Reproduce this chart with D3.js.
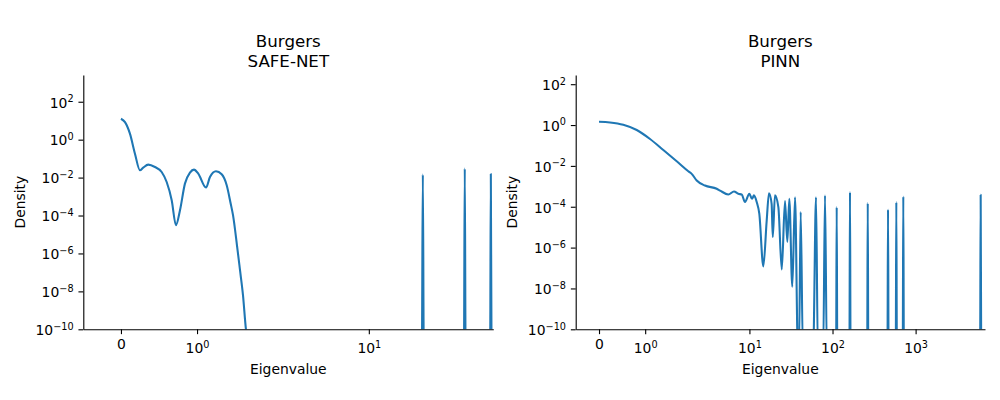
<!DOCTYPE html>
<html><head><meta charset="utf-8">
<script src="https://cdn.jsdelivr.net/npm/d3@7"></script>
<style>
body{margin:0;background:#fff}
svg{display:block}
text{font-family:"DejaVu Sans",sans-serif;fill:#000}
</style>
</head><body>
<svg id="c" width="1000" height="400"></svg>
<script>
// ---------- data ----------
const titleTop = "Burgers";
const panelNames = ["SAFE-NET", "PINN"];
const xLabel = "Eigenvalue";
const yLabel = "Density";

const safeNetEig = [0, 0.053, 0.118, 0.184, 0.250, 0.293, 0.359, 0.447, 0.535, 0.601, 0.667, 0.723, 0.776, 0.841, 0.907, 0.960, 1.016, 1.118, 1.170, 1.249, 1.324, 1.390, 1.442, 1.473, 1.525, 1.565, 1.604, 1.643, 1.70,
  24.4, 24.8, 25.2, 49.5, 50.2, 50.9, 76.9, 77.8, 78.7];
const safeNetDensity = [12.7, 8.4, 2.07, 0.183, 0.0242, 0.0336, 0.0483, 0.0361, 0.0197, 0.00586, 6.4e-4, 3.1e-5, 1.9e-4, 0.0048, 0.0183, 0.0264, 0.0162, 0.00298, 0.0108, 0.0215, 0.0149, 0.00393, 4.3e-4, 1.04e-4, 2.7e-6, 1.3e-7, 6.4e-9, 1e-10, 1e-11,
  1e-11, 0.0144, 1e-11, 1e-11, 0.030, 1e-11, 1e-11, 0.0155, 1e-11];

const pinnEig = [0, 0.238, 0.526, 0.817, 1.105, 1.393, 1.683, 1.934, 2.02, 2.32, 2.92, 4.04, 4.43, 5.57, 6.52, 7.35, 8.07, 8.85, 9.97, 10.75, 11.35, 12.24, 13.15, 14.7, 16.14, 17.2, 18.5, 19.1, 20.3, 22.3, 24.5, 26.8, 28.6, 30.2, 32.8, 35.4,
  38.3, 39.5, 41.4, 44.0, 58.5, 63.3, 66.6, 77.3, 81.2, 85.4,
  110.5, 112.3, 114.1, 159.8, 162.3, 164.8, 261.5, 265.5, 269.5, 458.6, 465.6, 472.6, 577, 586, 595, 700, 711, 722, 5975, 6066, 6157];
const pinnDensity = [1.45, 1.34, 1.03, 0.57, 0.207, 0.060, 0.0168, 0.00546, 0.00407, 0.00192, 0.00109, 7.6e-4, 6.2e-4, 4.0e-4, 5.6e-4, 4.3e-4, 4.0e-4, 1.7e-4, 4.3e-4, 2.45e-4, 3.6e-4, 1.7e-4, 4.6e-5, 1.2e-7, 2.1e-5, 4.6e-4, 1.4e-4, 3.3e-6, 3.6e-4, 9.5e-5, 8.5e-8, 1.9e-4, 1.9e-6, 2.45e-4, 1.2e-8, 2.9e-4,
  1e-11, 1e-11, 5.5e-5, 1e-11, 1e-11, 2.9e-4, 1e-11, 1e-11, 3.6e-4, 1e-11,
  1e-11, 9.6e-5, 1e-11, 1e-11, 5.2e-4, 1e-11, 1e-11, 1.5e-4, 1e-11, 1e-11, 7.4e-5, 1e-11, 1e-11, 1.7e-4, 1e-11, 1e-11, 3.2e-4, 1e-11, 1e-11, 3.8e-4, 1e-11];

const safeNetXTicks = [0, 1, 10];
const pinnXTicks = [0, 1, 10, 100, 1000];
const yTicks = [1e2, 1e0, 1e-2, 1e-4, 1e-6, 1e-8, 1e-10];

const safeNetXLim = [-0.495, 81.1];
const pinnXLim = [-0.505, 6840];
const safeNetYLim = [1e-10, 2570];
const pinnYLim = [1e-10, 282];

// ---------- symlog (linthresh=2, linscale=1, base 10) ----------
const LT = 2, LS = 1 / (1 - 1 / 10);
function symT(x) {
  const a = Math.abs(x);
  return a <= LT ? x * LS / LT : Math.sign(x) * (LS + Math.log10(a / LT));
}

const svg = d3.select("#c");
const TOP = 75, BOTTOM = 329.3;
const FS = 13.9, SUP = 9.7, TICK = 4.86, PAD = 4.86;
const COLOR = "#1f77b4";

const panels = [
  {name: panelNames[0], eig: safeNetEig, dens: safeNetDensity, xTicks: safeNetXTicks, xLim: safeNetXLim, yLim: safeNetYLim, left: 83.3, right: 493.3, ylabX: 25},
  {name: panelNames[1], eig: pinnEig, dens: pinnDensity, xTicks: pinnXTicks, xLim: pinnXLim, yLim: pinnYLim, left: 575.7, right: 985, ylabX: 517.3}
];

function powLabel(text, v) {
  if (v === 0) { text.text("0"); return; }
  const e = Math.round(Math.log10(v));
  text.append("tspan").text("10");
  text.append("tspan").attr("font-size", SUP).attr("dy", -5.5).text(String(e).replace("-", "\u2212"));
}

panels.forEach((p, i) => {
  const xT = d3.scaleLinear().domain(p.xLim.map(symT)).range([p.left, p.right]);
  const x = v => xT(symT(v));
  const y = d3.scaleLog().domain(p.yLim).range([BOTTOM, TOP]);

  const clipId = "clip" + i;
  svg.append("clipPath").attr("id", clipId).append("rect")
    .attr("x", p.left).attr("y", TOP).attr("width", p.right - p.left).attr("height", BOTTOM - TOP);

  const pts = p.eig.map((e, k) => [e, p.dens[k]]);
  const line = d3.line().x(d => x(d[0])).y(d => y(d[1])).curve(d3.curveMonotoneX);
  svg.append("path").attr("d", line(pts)).attr("fill", "none")
    .attr("stroke", COLOR).attr("stroke-width", 2.08).attr("stroke-linejoin", "round")
    .attr("clip-path", `url(#${clipId})`);

  // x axis
  const gx = svg.append("g").attr("transform", `translate(0,${BOTTOM})`)
    .call(d3.axisBottom(xT).tickValues(p.xTicks.map(symT)).tickSize(TICK).tickSizeOuter(0).tickFormat(""));
  gx.selectAll(".tick text").remove();
  gx.selectAll(".tick").each(function (d, k) {
    const v = p.xTicks[k];
    const t = d3.select(this).append("text").attr("text-anchor", "middle")
      .attr("font-size", FS).attr("y", v === 0 ? 19.7 : 24);
    powLabel(t, v);
  });

  // y axis
  const gy = svg.append("g").attr("transform", `translate(${p.left},0)`)
    .call(d3.axisLeft(y).tickValues(yTicks).tickSize(TICK).tickSizeOuter(0).tickFormat(""));
  gy.selectAll(".tick text").remove();
  gy.selectAll(".tick").each(function (d, k) {
    const t = d3.select(this).append("text").attr("text-anchor", "end")
      .attr("font-size", FS).attr("x", -(TICK + PAD)).attr("y", 5.3);
    powLabel(t, yTicks[k]);
  });

  [gx, gy].forEach(g => {
    g.select(".domain").attr("stroke", "#000").attr("stroke-width", 1.11);
    g.selectAll(".tick line").attr("stroke", "#000").attr("stroke-width", 1.11);
  });

  const cx = (p.left + p.right) / 2;
  const title = svg.append("text").attr("text-anchor", "middle").attr("font-size", 16.67);
  title.append("tspan").attr("x", cx).attr("y", 46.7).text(titleTop);
  title.append("tspan").attr("x", cx).attr("y", 66.7).text(p.name);

  svg.append("text").attr("text-anchor", "middle").attr("font-size", FS)
    .attr("x", cx).attr("y", 373.5).text(xLabel);

  svg.append("text").attr("text-anchor", "middle").attr("font-size", FS)
    .attr("transform", `translate(${p.ylabX},${(TOP + BOTTOM) / 2}) rotate(-90)`).text(yLabel);
});
</script>
</body></html>
